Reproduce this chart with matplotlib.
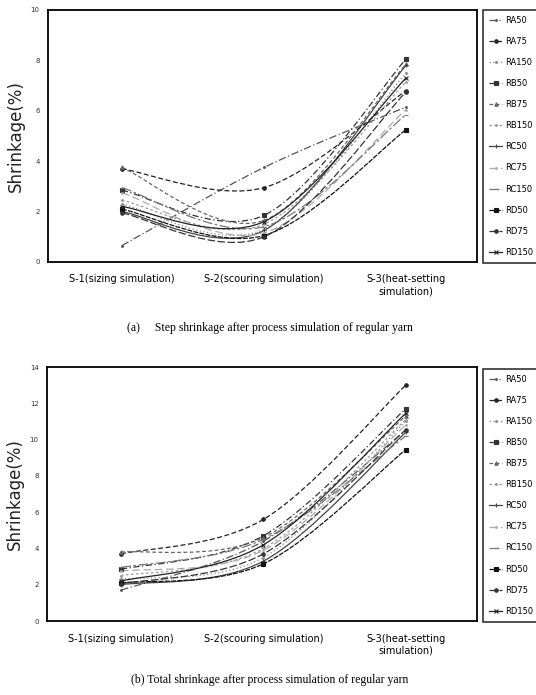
import matplotlib.pyplot as plt
import numpy as np
from matplotlib.path import Path
from matplotlib.patches import PathPatch
from matplotlib.lines import Line2D

stages = ["S-1(sizing simulation)", "S-2(scouring simulation)", "S-3(heat-setting\nsimulation)"]
names = ["RA50", "RA75", "RA150", "RB50", "RB75", "RB150",
         "RC50", "RC75", "RC150", "RD50", "RD75", "RD150"]

# step shrinkage (%) at S-1, S-2, S-3
step = {
    "RA50": [0.65, 3.75, 6.15],
    "RA75": [3.70, 2.95, 6.80],
    "RA150": [2.30, 1.30, 7.50],
    "RB50": [2.85, 1.85, 8.05],
    "RB75": [3.75, 1.65, 7.85],
    "RB150": [2.45, 1.50, 7.15],
    "RC50": [2.00, 1.25, 7.80],
    "RC75": [2.75, 1.15, 6.05],
    "RC150": [2.95, 1.40, 5.85],
    "RD50": [2.10, 1.05, 5.25],
    "RD75": [1.95, 1.00, 6.75],
    "RD150": [2.20, 1.60, 7.30],
}
# total shrinkage (%) at S-1, S-2, S-3
total = {
    "RA50": [1.70, 4.40, 10.50],
    "RA75": [3.70, 5.60, 13.00],
    "RA150": [2.30, 3.50, 11.00],
    "RB50": [2.85, 4.70, 11.70],
    "RB75": [3.80, 4.60, 11.30],
    "RB150": [2.50, 4.00, 11.10],
    "RC50": [2.00, 3.30, 10.40],
    "RC75": [2.75, 3.90, 10.80],
    "RC150": [2.95, 4.50, 10.20],
    "RD50": [2.10, 3.15, 9.45],
    "RD75": [2.05, 3.70, 10.55],
    "RD150": [2.20, 4.20, 11.45],
}

colors = ["#555", "#222", "#888", "#333", "#666", "#999",
          "#444", "#aaa", "#777", "#111", "#333", "#222"]
styles = [(0, (6, 2, 1, 2)), (0, (4, 2)), (0, (1, 2)), (0, (5, 2, 1, 2)),
          (0, (3, 2)), (0, (2, 2)), "-", (0, (6, 3)), (0, (8, 2, 2, 2)),
          (0, (4, 1)), (0, (6, 2)), "-"]
markers = [".", "o", ".", "s", "^", ".", "+", ".", "_", "s", "o", "x"]


def smooth_path(x, y):
    # excel-like smoothed line through the points (cubic bezier segments)
    pts = np.column_stack([x, y]).astype(float)
    n = len(pts)
    verts = [pts[0]]
    codes = [Path.MOVETO]
    for i in range(n - 1):
        p_prev = pts[i - 1] if i > 0 else pts[i]
        p_next = pts[i + 2] if i + 2 < n else pts[i + 1]
        c1 = pts[i] + (pts[i + 1] - p_prev) / 6
        c2 = pts[i + 1] - (p_next - pts[i]) / 6
        verts += [c1, c2, pts[i + 1]]
        codes += [Path.CURVE4] * 3
    return Path(verts, codes)


def draw(ax, data, ymax, leg_y):
    x = np.arange(len(stages))
    handles = []
    for k, name in enumerate(names):
        y = data[name]
        ax.add_patch(PathPatch(smooth_path(x, y), fill=False, ec=colors[k],
                               lw=0.9, ls=styles[k]))
        ax.plot(x, y, ls="none", marker=markers[k], ms=2.5, color=colors[k], mew=0.8)
        handles.append(Line2D([], [], color=colors[k], ls=styles[k], lw=0.9,
                              marker=markers[k], ms=2.5, mew=0.8))
    ax.set_xlim(-0.52, 2.5)
    ax.set_ylim(0, ymax)
    ax.set_yticks(np.arange(0, ymax + 1, 2))
    ax.set_xticks(x)
    ax.set_xticklabels(stages, fontsize=7)
    ax.tick_params(axis="y", labelsize=5, length=0, pad=6, colors="#333")
    ax.tick_params(axis="x", length=0, pad=9)
    ax.set_ylabel("Shrinkage(%)", fontsize=12, color="#222", labelpad=4)
    for s in ax.spines.values():
        s.set_linewidth(1.3)
    leg = fig.legend(handles, names, loc="upper left",
                     bbox_to_anchor=(483 / 536, leg_y), fontsize=6,
                     handlelength=1.6, handletextpad=0.4, labelspacing=1.45,
                     borderpad=0.7, frameon=True, fancybox=False,
                     edgecolor="black", borderaxespad=0)
    leg.get_frame().set_linewidth(1.2)


fig = plt.figure(figsize=(5.36, 6.95), dpi=100)
ax1 = fig.add_axes([48 / 536, 1 - 262 / 695, 429 / 536, 252 / 695])
ax2 = fig.add_axes([47 / 536, 1 - 621 / 695, 430 / 536, 254 / 695])

draw(ax1, step, 10, 1 - 10 / 695)
draw(ax2, total, 14, 1 - 369 / 695)

fig.text(270 / 536, 1 - 328 / 695,
         "(a)     Step shrinkage after process simulation of regular yarn",
         ha="center", va="center", fontsize=8.5, family="Liberation Serif")
fig.text(270 / 536, 1 - 680 / 695,
         "(b) Total shrinkage after process simulation of regular yarn",
         ha="center", va="center", fontsize=8.5, family="Liberation Serif")

fig.savefig("out.png", dpi=100)
